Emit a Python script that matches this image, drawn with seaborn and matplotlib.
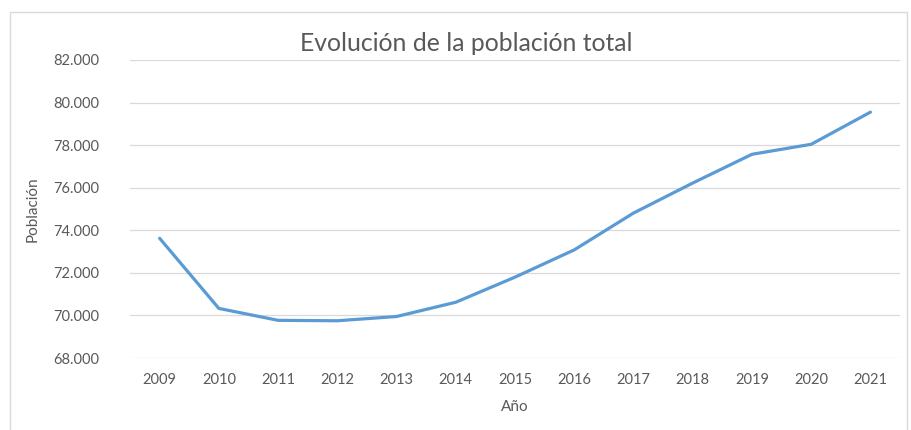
import matplotlib
matplotlib.use("Agg")
import matplotlib.pyplot as plt
import matplotlib.ticker as mticker
from matplotlib.patches import Rectangle
import seaborn as sns
import pandas as pd

# Population by year
years = [2009, 2010, 2011, 2012, 2013, 2014, 2015, 2016, 2017, 2018, 2019, 2020, 2021]
population = [73625, 70330, 69770, 69750, 69950, 70620, 71800, 73080, 74810, 76220, 77570, 78040, 79550]
y_ticks = [68000, 70000, 72000, 74000, 76000, 78000, 80000, 82000]

df = pd.DataFrame({"Año": years, "Población": population})

sns.set_theme(style="white")
plt.rcParams["font.family"] = ["Lato", "DejaVu Sans"]

text_grey = "#595959"
grid_grey = "#D9D9D9"
line_blue = "#5B9BD5"

fig = plt.figure(figsize=(9.11, 4.30), dpi=100)
ax = fig.add_axes([0.1427, 0.1674, 0.988 - 0.1427, 0.8605 - 0.1674])

sns.lineplot(data=df, x="Año", y="Población", ax=ax, color=line_blue, linewidth=2.3)

ax.set_xlim(years[0] - 0.5, years[-1] + 0.5)
ax.set_ylim(y_ticks[0], y_ticks[-1])
ax.set_xticks(years)
ax.set_xticklabels([str(y) for y in years])
ax.set_yticks(y_ticks)
ax.yaxis.set_major_formatter(mticker.FuncFormatter(lambda v, p: f"{int(v):,}".replace(",", ".")))

ax.grid(axis="y", color=grid_grey, linewidth=0.9)
ax.grid(axis="x", visible=False)
ax.set_axisbelow(True)
for s in ax.spines.values():
    s.set_visible(False)

ax.tick_params(axis="both", length=0, labelsize=10.5, labelcolor=text_grey)
ax.tick_params(axis="x", pad=11)
ax.tick_params(axis="y", pad=22)

ax.set_xlabel("Año", fontsize=11, color=text_grey, labelpad=9)
ax.set_ylabel("Población", fontsize=11, color=text_grey, labelpad=10)

fig.text(0.512, 0.898, "Evolución de la población total", ha="center", va="center",
         fontsize=17.8, color=text_grey)

# chart area border
fig.patches.append(Rectangle((10 / 911, -0.1), (907 - 10) / 911, 1.1 - 12 / 430,
                             transform=fig.transFigure, fill=False,
                             edgecolor=grid_grey, linewidth=1.0))

fig.savefig("out.png", dpi=100, facecolor="white")
